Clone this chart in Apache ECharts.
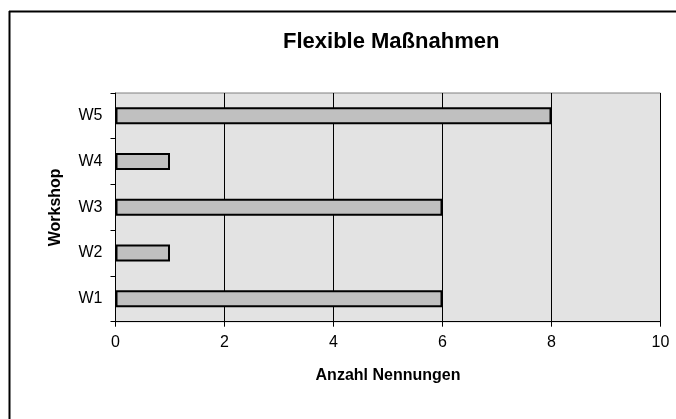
<!DOCTYPE html>
<html>
<head>
<meta charset="utf-8">
<script src="https://cdn.jsdelivr.net/npm/echarts@6/dist/echarts.min.js"></script>
<style>
html,body{margin:0;padding:0;background:#fff;}
#chart{width:676px;height:419px;}
</style>
</head>
<body>
<div id="chart"></div>
<script>
const titleText = 'Flexible Maßnahmen';
const categories = ['W1', 'W2', 'W3', 'W4', 'W5'];
const values = [6, 1, 6, 1, 8];
const xTicks = [0, 2, 4, 6, 8, 10];
const xName = 'Anzahl Nennungen';
const yName = 'Workshop';

const font = '"Liberation Sans", Arial, sans-serif';
const chart = echarts.init(document.getElementById('chart'));
chart.setOption({
  animation: false,
  backgroundColor: '#fff',
  title: {
    text: titleText,
    left: 278,
    top: 26,
    textStyle: { fontFamily: font, fontSize: 22, fontWeight: 'bold', color: '#000' }
  },
  graphic: [
    { type: 'line', shape: { x1: 9, y1: 11.5, x2: 676, y2: 11.5 }, style: { stroke: '#000', lineWidth: 2 } },
    { type: 'line', shape: { x1: 9.5, y1: 11, x2: 9.5, y2: 419 }, style: { stroke: '#000', lineWidth: 2 } }
  ],
  grid: {
    left: 115.5, right: 15.5, top: 93, bottom: 97.3,
    show: true, backgroundColor: '#e3e3e3', borderColor: '#808080', borderWidth: 1
  },
  xAxis: {
    type: 'value',
    min: xTicks[0], max: xTicks[xTicks.length - 1], interval: 2,
    name: xName, nameLocation: 'middle', nameGap: 46,
    nameTextStyle: { fontFamily: font, fontSize: 16, fontWeight: 'bold', color: '#000' },
    axisLine: { show: true, lineStyle: { color: '#000', width: 1 } },
    axisTick: { show: true, length: 5, lineStyle: { color: '#000' } },
    axisLabel: { fontFamily: font, fontSize: 16, color: '#000', margin: 13 },
    splitLine: { show: true, lineStyle: { color: '#000', width: 1 } }
  },
  yAxis: {
    type: 'category',
    data: categories,
    name: yName, nameLocation: 'middle', nameGap: 52, nameRotate: 90,
    nameTextStyle: { fontFamily: font, fontSize: 16, fontWeight: 'bold', color: '#000' },
    axisLine: { show: true, lineStyle: { color: '#000', width: 1 } },
    axisTick: { show: true, length: 5, lineStyle: { color: '#000' } },
    axisLabel: { fontFamily: font, fontSize: 16, color: '#000', margin: 13 },
    splitLine: { show: false }
  },
  series: [{
    type: 'bar',
    data: values,
    barWidth: 17,
    itemStyle: { color: '#c0c0c0', borderColor: '#000', borderWidth: 2 }
  }]
});
</script>
</body>
</html>
